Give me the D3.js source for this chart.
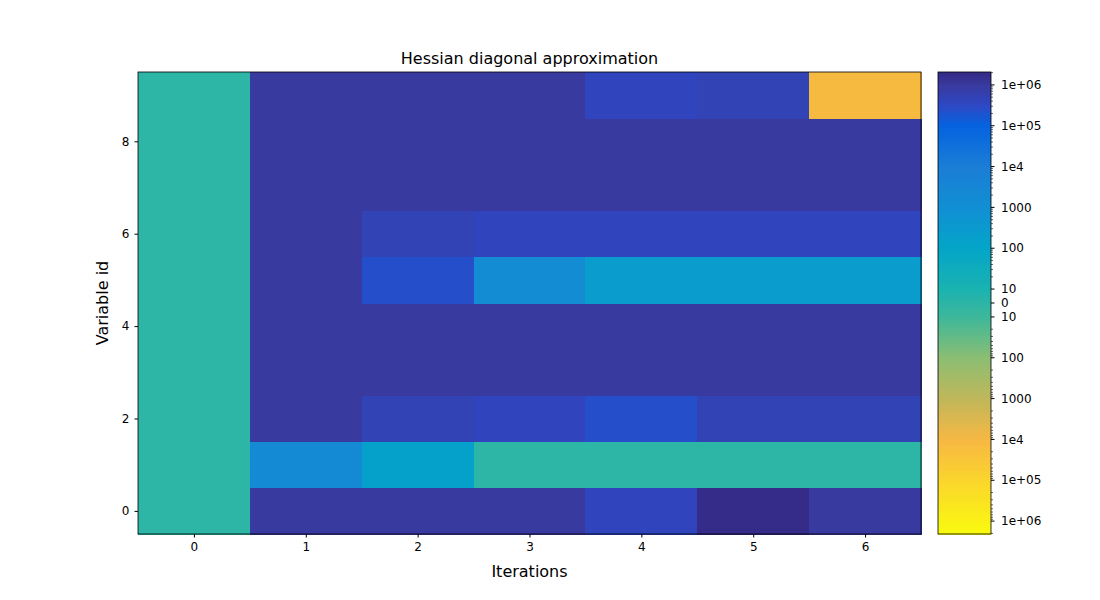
<!DOCTYPE html>
<html><head><meta charset="utf-8">
<script src="https://cdn.jsdelivr.net/npm/d3@7"></script>
<style>body{margin:0;background:#fff;font-family:"DejaVu Sans",sans-serif;}</style>
</head><body><svg id="c" width="1100" height="600"></svg>
<script>
const iterations = [0, 1, 2, 3, 4, 5, 6];
const variableIds = [0, 1, 2, 3, 4, 5, 6, 7, 8, 9];
// values[row][iteration], row = variable id
const values = [
  [0, 1e6, 1e6, 1e6, 4e5, 2e6, 1e6],
  [0, 2000, 150, 0, 0, 0, 0],
  [0, 1e6, 5e5, 4e5, 2.5e5, 5e5, 5e5],
  [0, 1e6, 1e6, 1e6, 1e6, 1e6, 1e6],
  [0, 1e6, 1e6, 1e6, 1e6, 1e6, 1e6],
  [0, 1e6, 2.5e5, 1500, 250, 250, 250],
  [0, 1e6, 5e5, 4e5, 4e5, 4e5, 4e5],
  [0, 1e6, 1e6, 1e6, 1e6, 1e6, 1e6],
  [0, 1e6, 1e6, 1e6, 1e6, 1e6, 1e6],
  [0, 1e6, 1e6, 1e6, 4e5, 5e5, -1.2e4]
];
const cbTicks = [1e6, 1e5, 1e4, 1000, 100, 10, 0, -10, -100, -1000, -1e4, -1e5, -1e6];
const cbLabels = ["1e+06", "1e+05", "1e4", "1000", "100", "10", "0", "10", "100", "1000", "1e4", "1e+05", "1e+06"];
const xTicks = [0, 1, 2, 3, 4, 5, 6];
const yTicks = [0, 2, 4, 6, 8];
// colormap stops: symlog value -> colour
const cmapValues = [2.07e6, 1e6, 3.2e5, 1e5, 1e4, 1000, 100, 10, 0, -10, -100, -1000, -1e4, -1e5, -2.07e6];
const cmapColors = ["#352a87", "#383a9f", "#2e48c4", "#0563e0", "#1a7ed5", "#118fd4", "#03a5c8", "#1ab3b0", "#2db5a6", "#3db89a", "#8cbe72", "#c0b75a", "#f7b843", "#fbd52c", "#f9fb0e"];

const linthresh = 10, linpart = 14 / 41, vmax = 2.07e6;
function sym(v) {
  const a = Math.abs(v), s = Math.sign(v);
  return a <= linthresh ? s * a / linthresh * linpart : s * (linpart + Math.log10(a / linthresh));
}
const tmax = sym(vmax);
const cmap = d3.scaleLinear().domain(cmapValues.map(sym)).range(cmapColors).clamp(true);
const color = v => cmap(sym(v));

const svg = d3.select("#c");
const L = 138, R = 921, T = 72, B = 534;
const x = d3.scaleLinear().domain([-0.5, 6.5]).range([L, R]);
const y = d3.scaleLinear().domain([-0.5, 9.5]).range([B, T]);

const cells = [];
values.forEach((row, r) => row.forEach((v, c) => cells.push({r, c, v})));
svg.append("g").attr("shape-rendering", "crispEdges").selectAll("rect").data(cells).join("rect")
  .attr("x", d => x(d.c - 0.5)).attr("y", d => y(d.r + 0.5))
  .attr("width", x(1) - x(0) + 0.5).attr("height", y(0) - y(1) + 0.5)
  .attr("fill", d => color(d.v));

svg.append("g").attr("transform", `translate(0,${B})`)
  .call(d3.axisBottom(x).tickValues(xTicks).tickFormat(d3.format("d")).tickSize(3.5).tickPadding(5))
  .call(g => g.select(".domain").remove());
svg.append("g").attr("transform", `translate(${L},0)`)
  .call(d3.axisLeft(y).tickValues(yTicks).tickFormat(d3.format("d")).tickSize(3.5).tickPadding(5))
  .call(g => g.select(".domain").remove());
svg.append("rect").attr("x", L).attr("y", T).attr("width", R - L).attr("height", B - T)
  .attr("fill", "none").attr("stroke", "#000").attr("stroke-width", 0.8);
svg.selectAll(".tick text").attr("font-size", 12).attr("font-family", "DejaVu Sans").attr("fill", "#000");

svg.append("text").attr("x", (L + R) / 2).attr("y", 64).attr("text-anchor", "middle")
  .attr("font-size", 16).text("Hessian diagonal approximation");
svg.append("text").attr("x", (L + R) / 2).attr("y", 577).attr("text-anchor", "middle")
  .attr("font-size", 16).text("Iterations");
svg.append("text").attr("transform", `translate(108,${(T + B) / 2}) rotate(-90)`).attr("text-anchor", "middle")
  .attr("font-size", 16).text("Variable id");

// colorbar
const cL = 938, cR = 991;
const cy = d3.scaleLinear().domain([-tmax, tmax]).range([B, T]);
const nb = 200;
svg.append("g").attr("shape-rendering", "crispEdges").selectAll("rect").data(d3.range(nb)).join("rect")
  .attr("x", cL).attr("width", cR - cL)
  .attr("y", i => cy(-tmax + (i + 1) * 2 * tmax / nb)).attr("height", (B - T) / nb + 0.6)
  .attr("fill", i => cmap(-tmax + (i + 0.5) * 2 * tmax / nb));
svg.append("rect").attr("x", cL).attr("y", T).attr("width", cR - cL).attr("height", B - T)
  .attr("fill", "none").attr("stroke", "#000").attr("stroke-width", 0.8);
const cg = svg.append("g");
cbTicks.forEach((v, i) => {
  const yy = cy(sym(v));
  cg.append("line").attr("x1", cR).attr("x2", cR + 3.5).attr("y1", yy).attr("y2", yy).attr("stroke", "#000");
  cg.append("text").attr("x", cR + 10).attr("y", yy).attr("dy", "0.35em").attr("font-size", 12).text(cbLabels[i]);
});
// minor ticks
const minors = [];
[1, -1].forEach(s => [10, 100, 1000, 1e4, 1e5].forEach(d => [2, 3, 4, 5, 6, 7, 8, 9].forEach(m => { if (d * m < vmax) minors.push(s * d * m); })));
[2e6, -2e6].forEach(v => { if (Math.abs(v) <= vmax) minors.push(v); });
minors.forEach(v => {
  const yy = cy(sym(v));
  cg.append("line").attr("x1", cR).attr("x2", cR + 2).attr("y1", yy).attr("y2", yy).attr("stroke", "#000").attr("stroke-width", 0.6);
});
</script></body></html>
